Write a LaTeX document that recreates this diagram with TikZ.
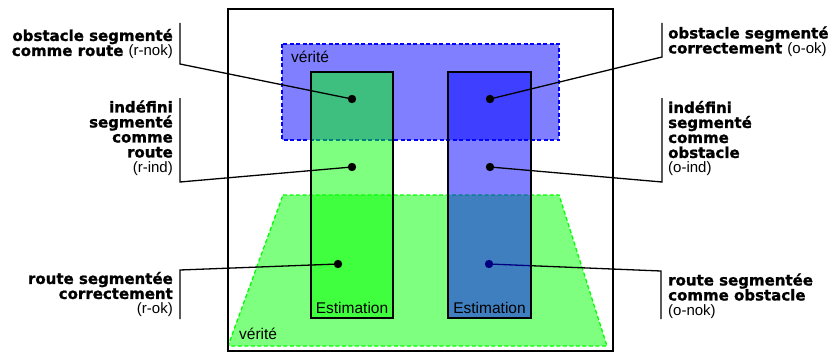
\documentclass[tikz,border=0pt]{standalone}
\usepackage{fontspec}
\setmainfont{Liberation Sans}
\newfontfamily\blk[UprightFont=* Bold, FakeBold=1.2]{DejaVu Sans}
\newcommand{\sigle}[1]{{\rmfamily(#1)}}
\usetikzlibrary{positioning}

\begin{document}
\begin{tikzpicture}[x=1pt,y=-1pt,
    leader/.style={line width=1.3pt},
    truth/.style={dash pattern=on 4pt off 2.5pt, line width=1.3pt, fill opacity=0.5},
    column/.style={draw=black, line width=1.5pt, fill opacity=0.5, inner sep=0pt,
                   minimum width=82pt, minimum height=246pt},
    lblL/.style={font=\blk\fontsize{15}{15}\selectfont, align=right, anchor=east, inner sep=0pt},
    lblR/.style={font=\blk\fontsize{15}{15}\selectfont, align=left, anchor=west, inner sep=0pt},
    txt/.style={font=\fontsize{15.5}{17}\selectfont, inner sep=1pt}]
  \useasboundingbox (0,0) rectangle (832,353);
  %
  \coordinate (rnok) at (352,99);
  \coordinate (rind) at (352,167);
  \coordinate (rok)  at (338,264);
  \coordinate (ook)  at (490,99);
  \coordinate (oind) at (490,167);
  \coordinate (onok) at (489,264);
  %
  \coordinate (rnok-t) at (180,23);  \coordinate (rnok-b) at (180,64);
  \coordinate (rind-t) at (180,98);  \coordinate (rind-b) at (180,182);
  \coordinate (rok-t)  at (180,270); \coordinate (rok-b)  at (180,319);
  \coordinate (ook-t)  at (662,23);  \coordinate (ook-b)  at (662,57);
  \coordinate (oind-t) at (662,98);  \coordinate (oind-b) at (662,182);
  \coordinate (onok-t) at (661,271); \coordinate (onok-b) at (661,319);
  %
  \draw[truth, draw=blue, fill=blue] (282,44) rectangle (559,140);
  \draw[truth, draw=green, fill=green] (283,195) -- (559,195) -- (607,346) -- (228,346) -- cycle;
  \node[txt, anchor=base west] (v-top) at (290,63) {vérité};
  \node[txt, anchor=base west] (v-bot) at (238,339) {vérité};
  %
  \draw[line width=1.5pt] (228,9) rectangle (613,351);
  %
  \draw[leader] (onok) -- (onok-t) -- (onok-b);
  \fill (onok) circle (4.2pt);
  %
  \node[column, fill=green] (gcol) at (352,195) {};
  \node[column, fill=blue, minimum width=83pt] (bcol) at (489.5,195) {};
  \node[txt, above=4pt of gcol.south] (est-g) {Estimation};
  \node[txt, above=4pt of bcol.south] (est-b) {Estimation};
  %
  \draw[leader] (rnok) -- (rnok-b) -- (rnok-t);
  \draw[leader] (rind) -- (rind-b) -- (rind-t);
  \draw[leader] (rok) -- (rok-t) -- (rok-b);
  \draw[leader] (ook) -- (ook-b) -- (ook-t);
  \draw[leader] (oind) -- (oind-b) -- (oind-t);
  \foreach \p in {rnok,rind,rok,ook,oind}
    \fill (\p) circle (4.2pt);
  %
  \node[lblL] (t-rnok) at (173,44) {obstacle segmenté\\comme route \sigle{r-nok}};
  \node[lblL] (t-rind) at (173,138) {indéfini\\segmenté\\comme\\route\\\sigle{r-ind}};
  \node[lblL] (t-rok)  at (173,294.5) {route segmentée\\correctement\\\sigle{r-ok}};
  \node[lblR] (t-ook)  at (668,41.5) {obstacle segmenté\\correctement \sigle{o-ok}};
  \node[lblR] (t-oind) at (668,138.5) {indéfini\\segmenté\\comme\\obstacle\\\sigle{o-ind}};
  \node[lblR] (t-onok) at (668,296) {route segmentée\\comme obstacle\\\sigle{o-nok}};
\end{tikzpicture}
\end{document}
